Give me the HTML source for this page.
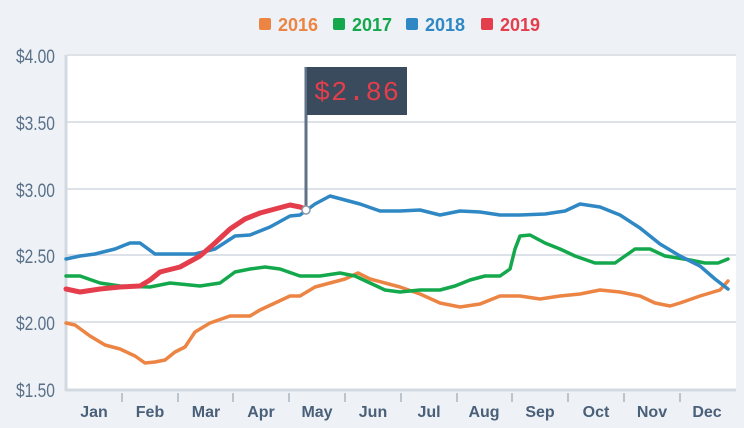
<!DOCTYPE html>
<html><head><meta charset="utf-8"><style>
body{margin:0;background:#eef2f7;font-family:"Liberation Sans",sans-serif}
</style></head><body>
<svg width="744" height="423" xmlns="http://www.w3.org/2000/svg" font-family="Liberation Sans, sans-serif">
<rect width="744" height="423" fill="#eef2f7"/>
<rect x="67" y="55" width="669" height="334" fill="#fff"/>
<g stroke="#dde2e8" stroke-width="2">
<line x1="67" y1="55" x2="736" y2="55"/>
<line x1="67" y1="122" x2="736" y2="122"/>
<line x1="67" y1="189" x2="736" y2="189"/>
<line x1="67" y1="255" x2="736" y2="255"/>
<line x1="67" y1="322" x2="736" y2="322"/>
</g>
<g stroke="#d3d9e0" stroke-width="3"><line x1="66" y1="55" x2="66" y2="391"/><line x1="65" y1="390" x2="736" y2="390"/></g>
<g stroke="#bcc4ce" stroke-width="2">
<line x1="122" y1="393" x2="122" y2="402"/><line x1="178" y1="393" x2="178" y2="402"/><line x1="233" y1="393" x2="233" y2="402"/><line x1="289" y1="393" x2="289" y2="402"/><line x1="345" y1="393" x2="345" y2="402"/><line x1="401" y1="393" x2="401" y2="402"/><line x1="457" y1="393" x2="457" y2="402"/><line x1="512" y1="393" x2="512" y2="402"/><line x1="568" y1="393" x2="568" y2="402"/><line x1="624" y1="393" x2="624" y2="402"/><line x1="680" y1="393" x2="680" y2="402"/>
</g>
<g fill="#5a7088" font-size="19" text-anchor="end" transform="scale(0.82,1)">
<text x="67" y="63">$4.00</text><text x="67" y="130">$3.50</text><text x="67" y="197">$3.00</text><text x="67" y="263">$2.50</text><text x="67" y="330">$2.00</text><text x="67" y="397">$1.50</text>
</g>
<g fill="#4a5f78" font-size="16" font-weight="bold" text-anchor="middle">
<text x="94" y="417">Jan</text><text x="150" y="417">Feb</text><text x="206" y="417">Mar</text><text x="261" y="417">Apr</text><text x="317" y="417">May</text><text x="373" y="417">Jun</text><text x="429" y="417">Jul</text><text x="484" y="417">Aug</text><text x="540" y="417">Sep</text><text x="596" y="417">Oct</text><text x="652" y="417">Nov</text><text x="707" y="417">Dec</text>
</g>
<g font-size="18" font-weight="bold">
<rect x="259" y="18" width="12" height="12" rx="2" fill="#ec8444"/><text x="278" y="31" fill="#ec8444">2016</text>
<rect x="333" y="18" width="12" height="12" rx="2" fill="#14a84c"/><text x="352" y="31" fill="#14a84c">2017</text>
<rect x="406" y="18" width="12" height="12" rx="2" fill="#2f88c4"/><text x="425" y="31" fill="#2f88c4">2018</text>
<rect x="481" y="18" width="12" height="12" rx="2" fill="#e43e4c"/><text x="500" y="31" fill="#e43e4c">2019</text>
</g>
<g fill="none" stroke-width="3.5" stroke-linejoin="round" stroke-linecap="round">
<polyline stroke="#ec8444" points="66,323 75,325 90,336 105,345 120,349 135,356 145,363 155,362 165,360 175,352 185,347 195,332 210,323 230,316 250,316 260,310 275,303 290,296 300,296 315,287 330,283 345,279 358,273 370,279 385,283 400,287 420,294 440,303 460,307 480,304 500,296 520,296 540,299 560,296 580,294 600,290 620,292 640,296 655,303 670,306 680,303 700,296 720,290 728,281"/>
<polyline stroke="#14a84c" points="66,276 80,276 100,283 120,286 150,287 170,283 200,286 220,283 235,272 250,269 265,267 280,269 300,276 320,276 340,273 355,276 370,283 385,290 400,292 420,290 440,290 455,286 470,280 485,276 500,276 510,269 515,249 520,236 530,235 545,243 560,249 575,256 595,263 615,263 625,256 635,249 650,249 665,256 690,260 705,263 718,263 728,259"/>
<polyline stroke="#2f88c4" points="66,259 80,256 95,254 115,249 130,243 140,243 155,254 175,254 195,254 215,249 235,236 250,235 270,227 290,216 300,215 315,204 330,196 345,200 360,204 380,211 400,211 420,210 440,215 460,211 480,212 500,215 520,215 545,214 565,211 580,204 600,207 620,215 640,228 660,244 680,256 700,266 715,279 728,289"/>
<polyline stroke="#e43e4c" stroke-width="5" points="66,289 80,292 100,289 120,287 140,286 150,280 160,272 180,267 200,256 215,243 230,229 245,219 260,213 275,209 290,205 300,207 306,209"/>
</g>
<line x1="306" y1="67" x2="306" y2="209" stroke="#5f7185" stroke-width="3"/>
<circle cx="306" cy="210" r="4" fill="#fff" stroke="#8a98a8" stroke-width="1.5"/>
<rect x="307" y="67" width="100" height="48" fill="#3a4b5d"/>
<text x="357" y="100" fill="#e43e4c" font-family="Liberation Mono, monospace" font-size="27" text-anchor="middle" letter-spacing="1">$2.86</text>
</svg>
</body></html>
